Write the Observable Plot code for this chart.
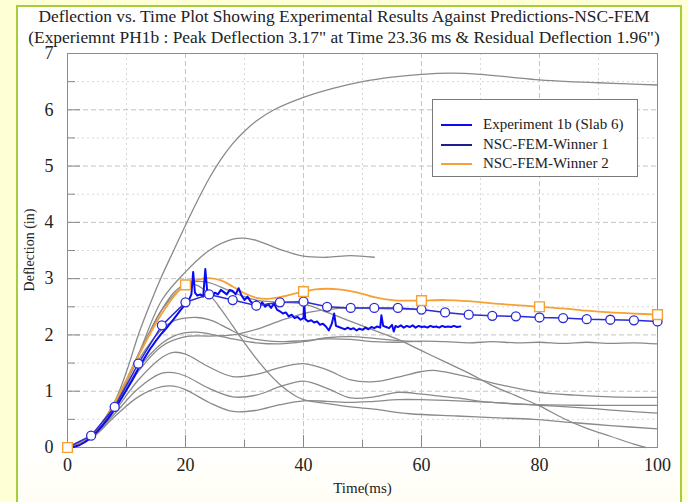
<!DOCTYPE html>
<html><head><meta charset="utf-8">
<script src="https://cdn.jsdelivr.net/npm/d3@7"></script>
<script src="https://cdn.jsdelivr.net/npm/@observablehq/plot@0.6"></script>
<style>
body{margin:0;}
#page{position:relative;width:688px;height:502px;background:#FFFFD6;overflow:hidden;font-family:"Liberation Serif","Times New Roman",serif;}
#panel{position:absolute;left:16px;top:5px;width:666px;height:520px;border:2px solid #A6CE3C;background:linear-gradient(#ffffff 85%,#fffdf0);box-sizing:border-box;}
.title{position:absolute;left:0;width:688px;text-align:center;font-size:17.4px;color:#222;white-space:nowrap;}
#chart{position:absolute;left:0;top:0;}
#ylab{position:absolute;left:30px;top:250px;width:0;height:0;}
#ylab span{position:absolute;left:0;top:0;transform:translate(-50%,-50%) rotate(-90deg);white-space:nowrap;font-size:14px;color:#222;display:block;}
#legend{position:absolute;left:432px;top:99px;width:206px;height:78px;border:1px solid #7a7a7a;background:#fff;box-sizing:border-box;font-size:15px;color:#222;}
.row{position:absolute;left:0;height:18px;}
.sw{position:absolute;left:8px;width:31px;height:0;border-top:2px solid;top:9px;}
.lb{position:absolute;left:50px;top:0;line-height:18px;white-space:nowrap;}
</style></head>
<body>
<div id="page">
<div id="panel"></div>
<div class="title" style="top:6px">Deflection vs. Time Plot Showing Experimental Results Against Predictions-NSC-FEM</div>
<div class="title" style="top:27px">(Experiemnt PH1b : Peak Deflection 3.17" at Time 23.36 ms &amp; Residual Deflection 1.96")</div>
<div id="chart"></div>
<div id="ylab"><span>Deflection (in)</span></div>
<div id="legend"></div>
</div>
<script>
// ---------- data ----------
const xMajor = [0, 20, 40, 60, 80, 100];
const xMinor = [10, 30, 50, 70, 90];
const yMajor = [0, 1, 2, 3, 4, 5, 6, 7];
const yMinor = [0.5, 1.5, 2.5, 3.5, 4.5, 5.5, 6.5];

const seriesNames = ["Experiment 1b (Slab 6)", "NSC-FEM-Winner 1", "NSC-FEM-Winner 2"];
const seriesColors = ["#0a0af2", "#1e1e8c", "#F5A136"];

// Experiment 1b (Slab 6)
const expT = [0,1,2,3,4,5,6,7,8,9,10,11,12,13,14,15,16,17,18,19,20,20.5,21,21.3,21.6,22,22.5,23,23.36,23.7,24,24.5,25,25.5,26,26.5,27,27.5,28,28.5,29,29.5,30,30.5,31,31.5,32,32.5,33,33.5,34,34.5,35,35.5,36,36.5,37,37.5,38,38.5,39,39.5,40,40.1,40.3,40.8,41.3,41.8,42.3,42.8,43.3,43.8,44.3,44.8,45.2,45.5,46,46.5,47,47.5,48,48.5,49,49.5,50,50.5,51,51.5,52,52.5,53,53.2,53.5,54,54.5,55,55.3,55.6,56,56.5,57,57.5,58,58.5,59,59.5,60,60.5,61,61.5,62,62.5,63,63.5,64,64.5,65,65.5,66,66.6];
const expD = [0,0.01,0.04,0.1,0.18,0.28,0.4,0.53,0.68,0.85,1.02,1.2,1.4,1.58,1.75,1.9,2.03,2.15,2.28,2.42,2.55,2.6,2.72,3.12,2.75,2.7,2.72,2.68,3.17,2.75,2.72,2.68,2.75,2.72,2.8,2.76,2.72,2.8,2.78,2.72,2.83,2.7,2.62,2.68,2.6,2.55,2.6,2.52,2.58,2.5,2.55,2.48,2.56,2.45,2.42,2.38,2.4,2.33,2.36,2.3,2.32,2.27,2.3,2.6,2.28,2.24,2.26,2.22,2.24,2.18,2.2,2.15,2.08,2.2,2.38,2.16,2.14,2.12,2.1,2.13,2.1,2.12,2.08,2.11,2.09,2.13,2.1,2.14,2.12,2.15,2.13,2.35,2.16,2.14,2.12,2.18,2.06,2.16,2.14,2.17,2.13,2.16,2.14,2.17,2.13,2.16,2.14,2.15,2.13,2.16,2.14,2.15,2.13,2.16,2.14,2.15,2.14,2.16,2.14,2.15];

// NSC-FEM-Winner 1 (markers every 4 ms)
const w1T = [0,4,8,12,16,20,24,28,32,36,40,44,48,52,56,60,64,68,72,76,80,84,88,92,96,100];
const w1D = [0,0.21,0.72,1.49,2.17,2.58,2.72,2.62,2.52,2.58,2.59,2.50,2.48,2.48,2.48,2.45,2.40,2.36,2.34,2.33,2.31,2.30,2.28,2.27,2.26,2.24];

// NSC-FEM-Winner 2
const w2T = [0,2,4,6,8,10,12,14,16,18,20,22,24,26,28,30,32,34,36,38,40,42,44,46,48,50,52,54,56,58,60,64,68,72,76,80,84,88,92,96,100];
const w2D = [0,0.05,0.2,0.45,0.8,1.2,1.62,2.02,2.38,2.68,2.89,2.98,3.01,2.97,2.86,2.74,2.66,2.64,2.67,2.72,2.77,2.81,2.82,2.81,2.78,2.73,2.67,2.63,2.61,2.61,2.61,2.62,2.60,2.56,2.53,2.50,2.47,2.43,2.40,2.38,2.36];
const w2MarkT = [0,20,40,60,80,100];
const w2MarkD = [0,2.89,2.77,2.61,2.50,2.36];

// other predictions (gray)
const g1T = [0,4,8,10,12,14,16,18,20,22,24,26,28,30,32,35,40,45,50,55,60,65,70,75,80,85,90,95,100];
const g1D = [0,0.2,0.82,1.35,2.0,2.55,3.05,3.5,3.95,4.38,4.78,5.12,5.4,5.62,5.8,6.0,6.22,6.38,6.5,6.58,6.63,6.65,6.63,6.58,6.53,6.5,6.48,6.46,6.44];
const g2T = [0,4,8,12,16,20,24,28,30,32,36,40,44,48,52];
const g2D = [0,0.2,0.75,1.65,2.62,3.12,3.5,3.7,3.72,3.68,3.52,3.4,3.38,3.41,3.38];
const g3T = [0,4,8,12,16,20,22,24,26,28,30,32,36,40,44,48,52,56,60,64,68,72,76,80,84,88,92,96,98];
const g3D = [0,0.2,0.78,1.62,2.45,2.88,2.95,2.93,2.85,2.76,2.68,2.62,2.58,2.55,2.4,2.24,2.08,1.92,1.72,1.52,1.32,1.1,0.92,0.74,0.52,0.34,0.2,0.06,0];
const g4T = [0,4,8,12,16,18,20,22,24,26,28,30,32,34,36,38,40,44,48,52,58,66,72,79,86,92,100];
const g4D = [0,0.2,0.8,1.65,2.45,2.75,2.9,2.88,2.72,2.46,2.16,1.86,1.58,1.33,1.12,0.96,0.85,0.78,0.72,0.68,0.6,0.56,0.53,0.5,0.44,0.39,0.33];
const g5T = [0,4,8,12,16,18,20,22,24,26,28,30,32,36,40,44,48,52,56,60,64,68,72,76,80,84,88,92,96,100];
const g5D = [0,0.2,0.78,1.55,2.1,2.25,2.3,2.31,2.27,2.18,2.07,1.98,1.92,1.88,1.9,1.93,1.92,1.88,1.87,1.89,1.88,1.86,1.88,1.86,1.87,1.85,1.87,1.85,1.86,1.84];
const g6T = [0,4,8,12,16,18,20,22,24,28,32,36,40,44,48,52,56,60];
const g6D = [0,0.19,0.72,1.4,1.85,1.98,2.04,2.05,2.02,1.93,1.86,1.84,1.88,1.95,1.97,1.94,1.9,1.88];
const g7T = [0,4,8,12,16,20,24,28,32,36,40,44,48,52,56,60];
const g7D = [0,0.19,0.7,1.35,1.8,1.97,1.98,2.0,2.1,2.25,2.38,2.45,2.48,2.47,2.46,2.45];
const g8T = [0,4,8,12,16,18,20,24,28,32,36,40,44,48,52,56,60,62,66,70,74,80,86,92,100];
const g8D = [0,0.18,0.65,1.2,1.6,1.69,1.66,1.43,1.26,1.3,1.42,1.49,1.38,1.2,1.17,1.25,1.35,1.37,1.3,1.2,1.1,0.98,0.93,0.9,0.89];
const g9T = [0,4,8,12,16,18,20,24,28,32,36,40,44,48,52,56,60,66,72,80,88,94,100];
const g9D = [0,0.17,0.6,1.05,1.32,1.33,1.27,1.05,0.9,0.93,1.08,1.18,1.05,0.88,0.9,0.98,0.95,0.88,0.8,0.75,0.7,0.65,0.61];
const g10T = [0,4,8,12,16,18,20,24,28,32,36,40,44,48,52,56,60,66,72,80,88,94,100];
const g10D = [0,0.16,0.55,0.9,1.08,1.09,1.03,0.8,0.64,0.66,0.76,0.83,0.82,0.8,0.82,0.85,0.85,0.83,0.8,0.76,0.75,0.75,0.75];

// ---------- tables ----------
const rows = (T, D, id) => T.map((t, i) => ({t, d: D[i], id}));
const grayRows = [
  ...rows(g1T,g1D,"g1"), ...rows(g2T,g2D,"g2"), ...rows(g3T,g3D,"g3"), ...rows(g4T,g4D,"g4"),
  ...rows(g5T,g5D,"g5"), ...rows(g6T,g6D,"g6"), ...rows(g7T,g7D,"g7"), ...rows(g8T,g8D,"g8"),
  ...rows(g9T,g9D,"g9"), ...rows(g10T,g10D,"g10")
];
const expRows = rows(expT, expD, "exp");
const w1Rows = rows(w1T, w1D, "w1");
const w2Rows = rows(w2T, w2D, "w2");
const w2Marks = rows(w2MarkT, w2MarkD, "w2m");

const frameW = 688 - 67 - 31, frameH = 502 - 53 - 55;

const chart = Plot.plot({
  width: 688, height: 502,
  marginLeft: 67, marginRight: 31, marginTop: 53, marginBottom: 55,
  style: {background: "transparent", fontFamily: "'Liberation Serif','Times New Roman',serif", color: "#222"},
  x: {domain: [0, 100]},
  y: {domain: [0, 7]},
  marks: [
    Plot.ruleX(xMinor, {stroke: "#d8d8d8", strokeDasharray: "2,3"}),
    Plot.ruleY(yMinor, {stroke: "#d8d8d8", strokeDasharray: "2,3"}),
    Plot.ruleX(xMajor.slice(1, -1), {stroke: "#c4c4c4", strokeDasharray: "5,3"}),
    Plot.ruleY(yMajor.slice(1, -1), {stroke: "#c4c4c4", strokeDasharray: "5,3"}),
    Plot.tickX(xMajor, {x: d => d, insetTop: frameH - 12, stroke: "#888"}),
    Plot.tickX(xMinor, {x: d => d, insetTop: frameH - 7, stroke: "#888"}),
    Plot.tickY(yMajor, {y: d => d, insetRight: frameW - 13, stroke: "#888"}),
    Plot.tickY(yMinor, {y: d => d, insetRight: frameW - 8, stroke: "#888"}),
    Plot.frame({stroke: "#8c8c8c"}),
    Plot.axisX(xMajor, {tickSize: 0, tickPadding: 11, fontSize: 18, label: null, tickFormat: d => String(d)}),
    Plot.axisY(yMajor, {tickSize: 0, tickPadding: 14, fontSize: 18, label: null, tickFormat: d => String(d)}),
    Plot.text(["Time(ms)"], {frameAnchor: "bottom", dy: 45, fontSize: 15, text: d => d}),
    Plot.line(grayRows, {x: "t", y: "d", z: "id", stroke: "#8a8a8a", strokeWidth: 1.3, curve: "catmull-rom"}),
    Plot.line(w2Rows, {x: "t", y: "d", stroke: seriesColors[2], strokeWidth: 1.8, curve: "catmull-rom"}),
    Plot.line(expRows, {x: "t", y: "d", stroke: seriesColors[0], strokeWidth: 2}),
    Plot.line(w1Rows, {x: "t", y: "d", stroke: "#2a2ad8", strokeWidth: 1.5}),
    Plot.dot(w1Rows, {x: "t", y: "d", r: 4.5, stroke: "#2a2ad8", fill: "white", strokeWidth: 1.3}),
    Plot.dot(w2Marks, {x: "t", y: "d", r: 5.5, symbol: "square", stroke: seriesColors[2], fill: "white", strokeWidth: 1.4})
  ]
});
document.getElementById("chart").appendChild(chart);

// legend
const lg = document.getElementById("legend");
seriesNames.forEach((name, i) => {
  const r = document.createElement("div");
  r.className = "row";
  r.style.top = (15 + i * 19.5) + "px";
  r.innerHTML = `<div class="sw" style="border-color:${seriesColors[i]}"></div><div class="lb">${name}</div>`;
  lg.appendChild(r);
});
</script>
</body></html>
